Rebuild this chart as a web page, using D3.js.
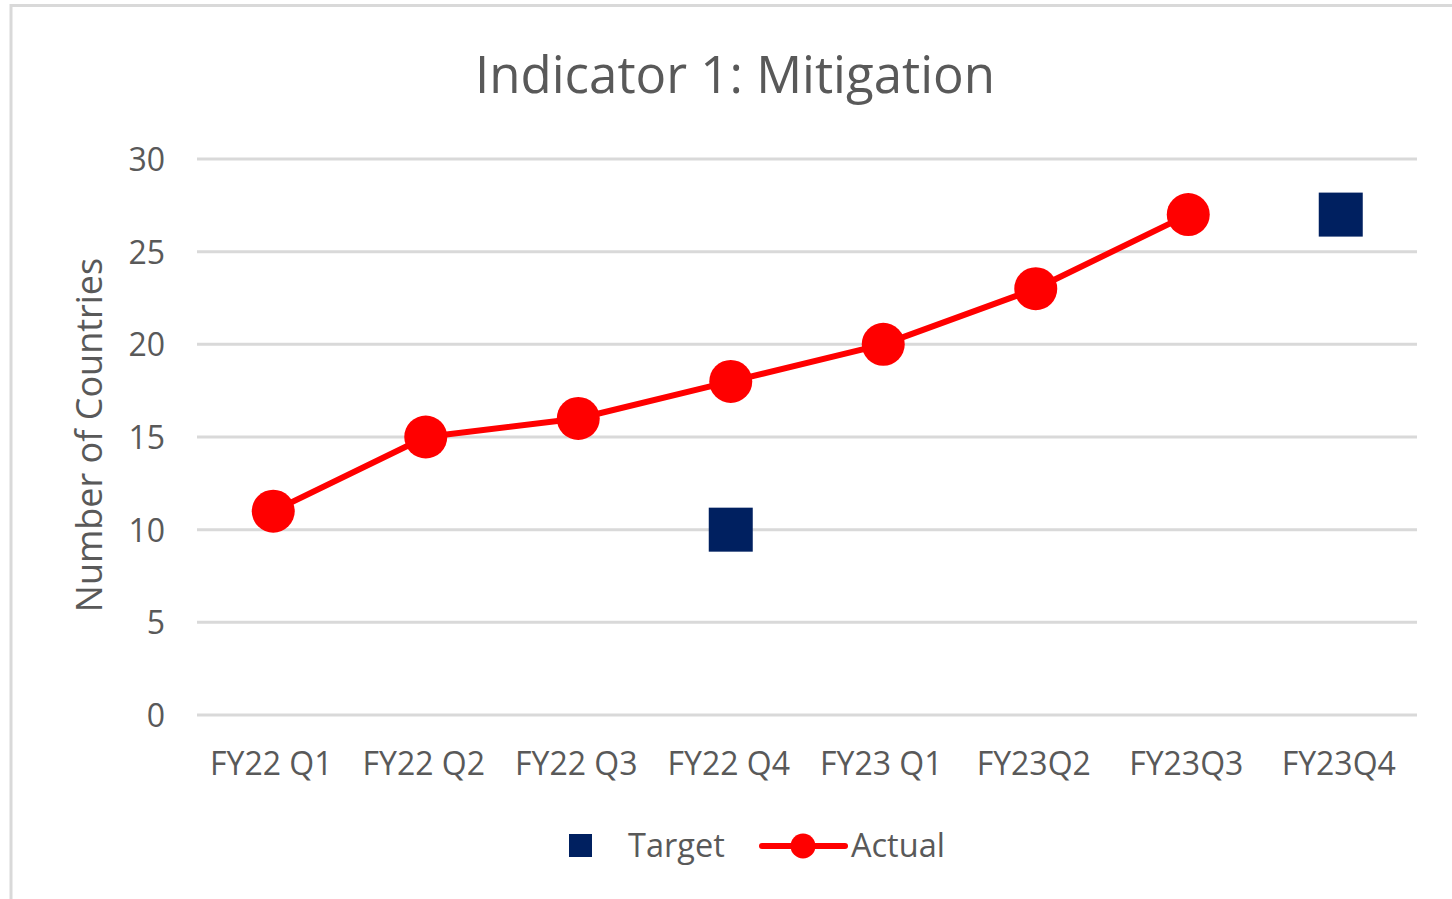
<!DOCTYPE html>
<html>
<head>
<meta charset="utf-8">
<script src="https://cdn.jsdelivr.net/npm/d3@7"></script>
<style>
html,body{margin:0;padding:0;background:#fff;}
svg{display:block;}
text{font-family:"Open Sans","Noto Sans",sans-serif;fill:#595959;}
</style>
</head>
<body>
<svg id="chart" width="1452" height="899"></svg>
<script>
const categories = ["FY22 Q1","FY22 Q2","FY22 Q3","FY22 Q4","FY23 Q1","FY23Q2","FY23Q3","FY23Q4"];
const actualValues = [11,15,16,18,20,23,27,null];
const targetValues = [null,null,null,10,null,null,null,27];
const yTicks = [0,5,10,15,20,25,30];
const chartTitle = "Indicator 1: Mitigation";
const yAxisTitle = "Number of Countries";

(function(){
const svg = d3.select("#chart");
const pLeft = 197, pRight = 1417, pTop = 159, pBottom = 715;

// outer border (top and left only visible)
svg.append("line").attr("x1",11).attr("x2",1452).attr("y1",5.5).attr("y2",5.5)
  .attr("stroke","#d9d9d9").attr("stroke-width",3);
svg.append("line").attr("x1",11).attr("x2",11).attr("y1",4).attr("y2",899)
  .attr("stroke","#d9d9d9").attr("stroke-width",3);

const x = d3.scaleBand().domain(categories).range([pLeft,pRight]);
const y = d3.scaleLinear().domain([0,30]).range([pBottom,pTop]);

// gridlines
svg.append("g").selectAll("line").data(yTicks).join("line")
  .attr("x1",pLeft).attr("x2",pRight)
  .attr("y1",d=>y(d)).attr("y2",d=>y(d))
  .attr("stroke","#d9d9d9").attr("stroke-width",3);

// y axis labels
const yAxis = d3.axisLeft(y).tickValues(yTicks).tickSize(0).tickPadding(0);
const gy = svg.append("g").attr("transform",`translate(165,0)`).call(yAxis);
gy.select(".domain").remove();
gy.selectAll("text").attr("font-size",32).attr("fill","#595959")
  .style("font-family",'"Open Sans","Noto Sans",sans-serif').attr("dy","0.36em");

// x axis labels
const xAxis = d3.axisBottom(x).tickSize(0).tickPadding(0);
const gx = svg.append("g").attr("transform",`translate(-2,${pBottom+60})`).call(xAxis);
gx.select(".domain").remove();
gx.selectAll("text").attr("font-size",32).attr("fill","#595959")
  .style("font-family",'"Open Sans","Noto Sans",sans-serif').attr("dy","0").attr("y",0);

// title
svg.append("text").attr("x",735).attr("y",93).attr("text-anchor","middle")
  .attr("font-size",51).text(chartTitle);

// y axis title
svg.append("text").attr("transform","translate(102,435) rotate(-90)")
  .attr("text-anchor","middle").attr("font-size",36).text(yAxisTitle);

const cx = d => x(d) + x.bandwidth()/2;

// actual line
const actualData = categories.map((c,i)=>({c,v:actualValues[i]}));
const line = d3.line().defined(d=>d.v!=null).x(d=>cx(d.c)).y(d=>y(d.v));
svg.append("path").datum(actualData).attr("d",line)
  .attr("fill","none").attr("stroke","#ff0000").attr("stroke-width",6)
  .attr("stroke-linejoin","round");
svg.append("g").selectAll("circle").data(actualData.filter(d=>d.v!=null)).join("circle")
  .attr("cx",d=>cx(d.c)).attr("cy",d=>y(d.v)).attr("r",21.5).attr("fill","#ff0000");

// target squares
const targetData = categories.map((c,i)=>({c,v:targetValues[i]})).filter(d=>d.v!=null);
const s = 44;
svg.append("g").selectAll("rect").data(targetData).join("rect")
  .attr("x",d=>cx(d.c)-s/2).attr("y",d=>y(d.v)-s/2).attr("width",s).attr("height",s)
  .attr("fill","#002060");

// legend
const lg = svg.append("g");
lg.append("rect").attr("x",569).attr("y",834).attr("width",23).attr("height",23).attr("fill","#002060");
lg.append("text").attr("x",628).attr("y",857).attr("font-size",32.5).text("Target");
lg.append("line").attr("x1",762).attr("x2",845).attr("y1",846).attr("y2",846)
  .attr("stroke","#ff0000").attr("stroke-width",6).attr("stroke-linecap","round");
lg.append("circle").attr("cx",803).attr("cy",846).attr("r",12.5).attr("fill","#ff0000");
lg.append("text").attr("x",851).attr("y",857).attr("font-size",32.5).text("Actual");
})();
</script>
</body>
</html>
